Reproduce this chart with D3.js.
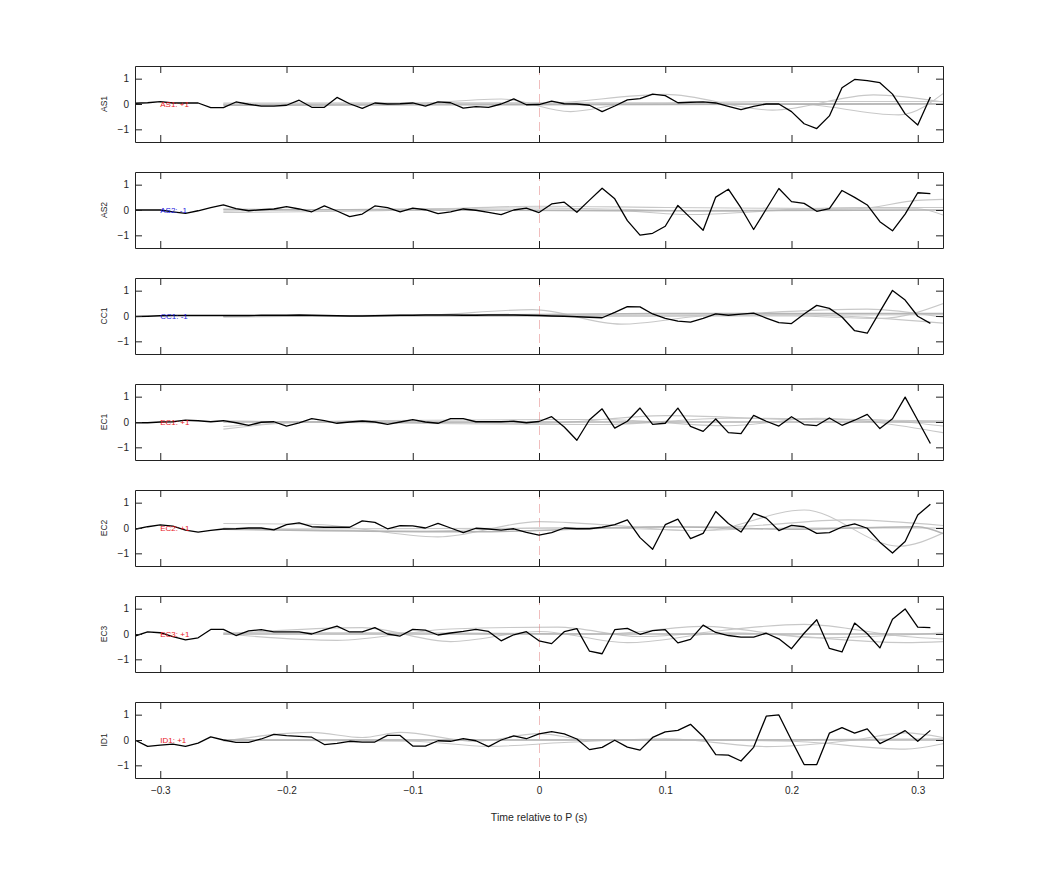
<!DOCTYPE html>
<html><head><meta charset="utf-8">
<script src="https://cdn.jsdelivr.net/npm/d3@7"></script>
<style>
html,body{margin:0;padding:0;background:#fff;}
text{font-family:"Liberation Sans",Arial,Helvetica,sans-serif;}
</style></head>
<body>
<svg id="chart" width="1042" height="875"></svg>
<script>
// ---------- data ----------
const channels = ["AS1","AS2","CC1","EC1","EC2","EC3","ID1"];
const signs    = ["+1","-1","-1","+1","+1","+1","+1"];
const tStart = -0.32, tStep = 0.01, nSamples = 64;   // sample times -0.32 ... 0.31
const xTicks = [-0.3,-0.2,-0.1,0,0.1,0.2,0.3];
const yTicks = [-1,0,1];

const valAS1 = [0.03,0.05,0.09,0.04,0.04,0.04,-0.14,-0.14,0.08,-0.01,-0.08,-0.08,-0.05,0.15,-0.13,-0.13,0.26,0.01,-0.17,0.04,0.0,0.01,0.04,-0.08,0.08,0.05,-0.16,-0.1,-0.13,0.0,0.2,-0.03,-0.02,
  0.11,0.01,0.0,-0.05,-0.30,-0.08,0.16,0.21,0.39,0.33,0.05,0.07,0.08,0.04,-0.09,-0.22,-0.09,0.0,0.0,-0.30,-0.78,-0.97,-0.47,0.64,0.97,0.92,0.84,0.39,-0.39,-0.83,0.28];
const valAS2 = [0,0,0,-0.07,-0.13,-0.03,0.09,0.2,0.05,-0.03,0.01,0.04,0.13,0.04,-0.07,0.16,-0.04,-0.26,-0.16,0.16,0.09,-0.07,0.07,0.01,-0.14,-0.07,0.04,-0.01,-0.09,-0.18,0.0,0.07,-0.1,
  0.24,0.31,-0.09,0.39,0.86,0.44,-0.42,-0.99,-0.92,-0.64,0.18,-0.31,-0.8,0.51,0.82,0.08,-0.77,0.04,0.85,0.33,0.26,-0.05,0.05,0.77,0.5,0.2,-0.46,-0.82,-0.16,0.68,0.65];
const valCC1 = [-0.02,-0.01,0.01,0.02,0.02,0.02,0.02,0.02,0.02,0.02,0.03,0.03,0.03,0.04,0.03,0.02,0.01,0.0,0.0,0.01,0.02,0.03,0.03,0.04,0.04,0.04,0.03,0.03,0.04,0.04,0.04,0.03,0.02,
  0.0,-0.01,-0.03,-0.05,-0.07,0.14,0.37,0.36,0.08,-0.09,-0.2,-0.24,-0.09,0.08,0.03,0.07,0.11,-0.08,-0.26,-0.3,0.08,0.42,0.3,-0.04,-0.58,-0.68,0.17,1.01,0.63,-0.01,-0.29];
const valEC1 = [-0.03,-0.03,0,0.01,0.07,0.05,0.01,0.05,-0.03,-0.13,-0.01,0.01,-0.16,-0.03,0.13,0.05,-0.05,0,0.04,0,-0.09,0,0.09,0,-0.05,0.13,0.13,0.01,0.01,0.01,0.03,-0.03,0.02,
  0.21,-0.2,-0.72,0.09,0.52,-0.24,0.03,0.55,-0.09,-0.05,0.55,-0.17,-0.37,0.12,-0.42,-0.46,0.26,0.03,-0.16,0.21,-0.1,-0.14,0.16,-0.13,0.07,0.3,-0.26,0.13,0.98,0.07,-0.85];
const valEC2 = [-0.05,0.05,0.12,0.07,-0.08,-0.16,-0.09,-0.04,-0.03,0,0,-0.07,0.13,0.2,0.05,0.03,0.03,0.03,0.28,0.22,-0.03,0.09,0.08,0,0.18,0,-0.18,-0.01,-0.04,-0.08,-0.03,-0.17,-0.28,
  -0.18,0,-0.03,-0.03,0.03,0.13,0.32,-0.38,-0.84,0.13,0.35,-0.42,-0.21,0.65,0.18,-0.16,0.58,0.39,-0.1,0.1,0.05,-0.21,-0.18,0.04,0.16,-0.01,-0.56,-0.99,-0.53,0.51,0.94];
const valEC3 = [-0.08,0.08,0.05,-0.1,-0.23,-0.15,0.18,0.18,-0.06,0.12,0.17,0.08,0.08,0.08,0.0,0.16,0.31,0.08,0.08,0.25,0.0,-0.08,0.18,0.15,-0.04,0.04,0.1,0.18,0.1,-0.27,-0.03,0.09,-0.27,
  -0.38,0.09,0.21,-0.68,-0.78,0.17,0.22,-0.01,0.13,0.17,-0.35,-0.21,0.35,0.06,-0.06,-0.12,-0.12,0.03,-0.19,-0.58,0.03,0.56,-0.57,-0.71,0.43,0.01,-0.55,0.58,0.99,0.27,0.25];
const valID1 = [0,-0.25,-0.2,-0.16,-0.25,-0.12,0.12,0,-0.09,-0.09,0.04,0.22,0.17,0.14,0.11,-0.18,-0.13,-0.05,-0.08,-0.08,0.18,0.18,-0.24,-0.24,-0.03,-0.05,0.05,-0.03,-0.26,0,0.16,0.05,0.24,
  0.33,0.24,0.04,-0.38,-0.29,-0.01,-0.28,-0.4,0.1,0.32,0.38,0.62,0.14,-0.58,-0.6,-0.83,-0.29,0.94,0.99,-0.01,-0.97,-0.97,0.27,0.49,0.27,0.44,-0.14,0.1,0.37,-0.05,0.38];

// grey reference curves: knots [time, value]
const greyAS1 = [
  [[-0.25,0.0],[-0.12,-0.03],[-0.03,0.2],[0.025,-0.3],[0.07,0.0],[0.15,0.02],[0.32,0.02]],
  [[-0.25,-0.02],[0.0,0.02],[0.1,0.38],[0.185,-0.24],[0.265,0.36],[0.32,0.08]],
  [[-0.25,0.0],[0.2,0.02],[0.285,-0.43],[0.325,0.6]],
  [[-0.25,0.04],[0.1,0.05],[0.2,0.1],[0.32,0.1]],
  [[-0.25,-0.05],[0.1,-0.02],[0.32,0.0]]];
const greyAS2 = [
  [[-0.25,-0.1],[-0.1,0.0],[0.0,0.15],[0.1,0.1],[0.25,0.05],[0.3,0.38],[0.32,0.42]],
  [[-0.25,0.0],[0.05,0.0],[0.12,-0.18],[0.2,0.0],[0.3,0.05],[0.32,-0.2]],
  [[-0.25,-0.05],[0.0,0.08],[0.15,-0.05],[0.25,0.1],[0.32,0.1]],
  [[-0.25,0.03],[0.1,-0.03],[0.32,0.0]]];
const greyCC1 = [
  [[-0.25,0.0],[-0.1,0.02],[-0.005,0.25],[0.065,-0.32],[0.14,0.03],[0.32,0.05]],
  [[-0.25,0.02],[0.1,0.0],[0.26,0.27],[0.32,-0.05]],
  [[-0.25,-0.02],[0.2,0.0],[0.27,-0.1],[0.325,0.58]],
  [[-0.25,0.0],[0.2,0.05],[0.32,-0.28]],
  [[-0.25,-0.03],[0.1,0.1],[0.32,0.1]]];
const greyEC1 = [
  [[-0.25,-0.28],[-0.18,0.0],[0.0,-0.05],[0.1,0.25],[0.2,0.1],[0.32,0.05]],
  [[-0.25,-0.18],[-0.15,0.05],[0.05,0.1],[0.15,-0.15],[0.22,0.15],[0.32,-0.42]],
  [[-0.25,0.05],[0.05,-0.1],[0.15,0.15],[0.26,0.1],[0.32,-0.16]],
  [[-0.25,0.0],[0.32,0.0]]];
const greyEC2 = [
  [[-0.25,0.18],[-0.18,0.15],[-0.08,-0.35],[0.0,0.25],[0.06,0.1],[0.12,-0.1],[0.2,0.0],[0.32,0.0]],
  [[-0.25,-0.05],[0.05,0.0],[0.13,-0.1],[0.21,0.71],[0.285,-0.72],[0.32,-0.2]],
  [[-0.25,0.0],[-0.1,-0.12],[0.0,0.0],[0.15,0.05],[0.245,0.32],[0.32,0.1]],
  [[-0.25,-0.05],[-0.05,-0.15],[0.1,0.05],[0.2,-0.05],[0.3,0.05],[0.32,-0.22]]];
const greyEC3 = [
  [[-0.25,0.0],[-0.16,-0.25],[-0.07,0.2],[0.015,0.27],[0.08,-0.1],[0.21,0.38],[0.29,-0.1],[0.32,-0.2]],
  [[-0.25,0.0],[-0.14,0.25],[-0.07,-0.3],[0.0,0.1],[0.07,-0.34],[0.15,0.05],[0.29,-0.34],[0.32,-0.3]],
  [[-0.25,0.05],[-0.1,0.05],[0.05,0.0],[0.13,0.3],[0.22,-0.15],[0.32,0.05]],
  [[-0.25,0.0],[0.32,0.0]]];
const greyID1 = [
  [[-0.25,-0.05],[-0.18,0.3],[-0.14,0.1],[-0.11,0.3],[-0.05,-0.05],[0.0,0.25],[0.04,0.0],[0.15,0.0],[0.32,0.05]],
  [[-0.25,0.0],[-0.1,-0.05],[-0.04,-0.25],[0.02,-0.1],[0.1,0.05],[0.18,-0.26],[0.25,0.0],[0.29,0.28],[0.32,0.1]],
  [[-0.25,0.0],[0.1,0.0],[0.2,-0.05],[0.29,-0.36],[0.32,-0.15]],
  [[-0.25,0.0],[0.32,0.0]]];

const values = [valAS1,valAS2,valCC1,valEC1,valEC2,valEC3,valID1];
const greys  = [greyAS1,greyAS2,greyCC1,greyEC1,greyEC2,greyEC3,greyID1];
const times = d3.range(nSamples).map(i => +(tStart + i*tStep).toFixed(2));

// ---------- layout ----------
const svg = d3.select("#chart");
const left = 135, right = 943, firstTop = 66, panelH = 76, gapStep = 106;
const x = d3.scaleLinear().domain([-0.32,0.32]).range([left,right]);
const textCol = "#262626";

svg.append("defs").selectAll("clipPath").data(channels).join("clipPath")
  .attr("id",(d,i)=>"clip"+i)
  .append("rect").attr("x",left).attr("y",(d,i)=>firstTop+i*gapStep)
  .attr("width",right-left).attr("height",panelH);

channels.forEach((name,i)=>{
  const top = firstTop + i*gapStep, bottom = top + panelH;
  const y = d3.scaleLinear().domain([-1.5,1.5]).range([bottom,top]);
  const g = svg.append("g");
  const plot = g.append("g").attr("clip-path",`url(#clip${i})`);

  const gl = d3.line().x(d=>x(d[0])).y(d=>y(d[1])).curve(d3.curveMonotoneX);
  greys[i].forEach((c,j)=>{
    plot.append("path").attr("d",gl(c)).attr("fill","none")
      .attr("stroke", j===greys[i].length-1 ? "#b4b4b4" : "#c8c8c8")
      .attr("stroke-width", j===greys[i].length-1 ? 1.4 : 1.1);
  });

  plot.append("line").attr("x1",x(0)+0.5).attr("x2",x(0)+0.5).attr("y1",top).attr("y2",bottom)
    .attr("stroke","#e07a7a").attr("stroke-width",0.5).attr("stroke-dasharray","9,5");

  const bl = d3.line().x((d,k)=>x(times[k])).y(d=>y(d));
  plot.append("path").attr("d",bl(values[i])).attr("fill","none")
    .attr("stroke","#000").attr("stroke-width",1.3).attr("stroke-linejoin","round");

  g.append("text").attr("x",x(-0.3)).attr("y",y(0)).attr("dy","0.35em")
    .attr("font-size",8).attr("fill", signs[i]==="+1" ? "#e8161b" : "#1a1ae0")
    .text(`${name}: ${signs[i]}`);

  // axes
  const isLast = i === channels.length-1;
  g.append("g").attr("transform",`translate(0,${bottom})`)
    .call(d3.axisBottom(x).tickValues(xTicks).tickSize(-7).tickSizeOuter(0).tickPadding(9)
      .tickFormat(isLast ? d3.format("") : ""));
  g.append("g").attr("transform",`translate(0,${top})`)
    .call(d3.axisTop(x).tickValues(xTicks).tickSize(-7).tickSizeOuter(0).tickFormat(""));
  g.append("g").attr("transform",`translate(${left},0)`)
    .call(d3.axisLeft(y).tickValues(yTicks).tickSize(-7).tickSizeOuter(0).tickPadding(6).tickFormat(d3.format("d")));
  g.append("g").attr("transform",`translate(${right},0)`)
    .call(d3.axisRight(y).tickValues(yTicks).tickSize(-7).tickSizeOuter(0).tickFormat(""));
  g.selectAll(".domain").attr("stroke","#222").attr("stroke-width",1);
  g.selectAll(".tick line").attr("stroke","#222");
  g.selectAll(".tick text").attr("font-size",10).attr("fill",textCol)
    .attr("font-family",'"Liberation Sans",Arial,sans-serif');

  g.append("text").attr("transform",`translate(104,${(top+bottom)/2}) rotate(-90)`)
    .attr("text-anchor","middle").attr("dy","0.35em").attr("font-size",8.5).attr("fill",textCol)
    .text(name);
});

svg.append("text").attr("x",x(0)).attr("y",820.5).attr("text-anchor","middle")
  .attr("font-size",10.5).attr("fill",textCol).text("Time relative to P (s)");
</script>
</body></html>
